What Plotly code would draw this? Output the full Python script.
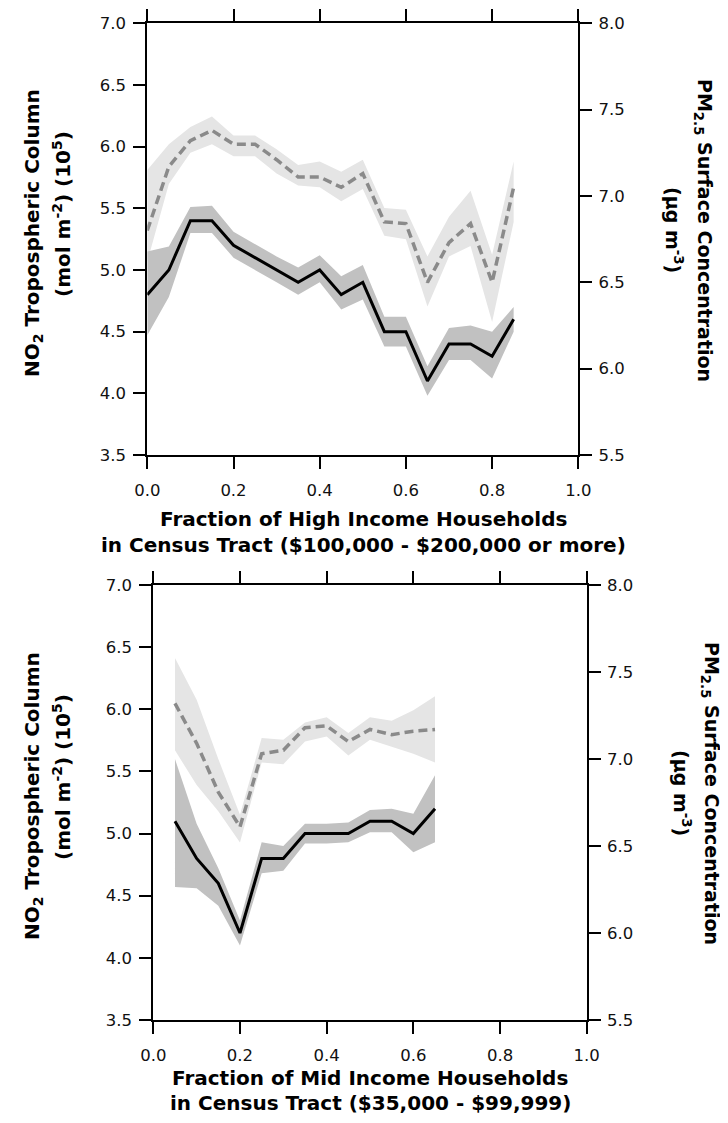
import plotly.graph_objects as go

# ---------------- data: top panel (high income) ----------------
x_high = [0.0, 0.05, 0.1, 0.15, 0.2, 0.25, 0.3, 0.35, 0.4, 0.45, 0.5, 0.55, 0.6, 0.65, 0.7, 0.75, 0.8, 0.85]
no2_high = [4.8, 5.0, 5.4, 5.4, 5.2, 5.1, 5.0, 4.9, 5.0, 4.8, 4.9, 4.5, 4.5, 4.1, 4.4, 4.4, 4.3, 4.6]
no2_high_hi = [5.15, 5.19, 5.51, 5.52, 5.31, 5.21, 5.11, 5.02, 5.12, 4.95, 5.04, 4.62, 4.62, 4.22, 4.53, 4.55, 4.5, 4.7]
no2_high_lo = [4.47, 4.78, 5.3, 5.3, 5.1, 5.0, 4.9, 4.8, 4.9, 4.68, 4.76, 4.38, 4.38, 3.98, 4.27, 4.27, 4.12, 4.5]
pm_high = [6.80, 7.17, 7.32, 7.38, 7.30, 7.30, 7.21, 7.11, 7.11, 7.05, 7.13, 6.85, 6.84, 6.50, 6.73, 6.84, 6.50, 7.05]
pm_high_hi = [7.15, 7.30, 7.40, 7.46, 7.35, 7.35, 7.27, 7.18, 7.20, 7.14, 7.21, 6.93, 6.92, 6.65, 6.88, 7.03, 6.66, 7.20]
pm_high_lo = [6.62, 7.07, 7.25, 7.30, 7.23, 7.23, 7.13, 7.06, 7.05, 6.97, 7.04, 6.77, 6.75, 6.36, 6.65, 6.71, 6.27, 6.85]

# ---------------- data: bottom panel (mid income) ----------------
x_mid = [0.05, 0.1, 0.15, 0.2, 0.25, 0.3, 0.35, 0.4, 0.45, 0.5, 0.55, 0.6, 0.65]
no2_mid = [5.1, 4.8, 4.6, 4.2, 4.8, 4.8, 5.0, 5.0, 5.0, 5.1, 5.1, 5.0, 5.2]
no2_mid_hi = [5.6, 5.08, 4.72, 4.3, 4.93, 4.9, 5.08, 5.08, 5.09, 5.19, 5.2, 5.16, 5.47]
no2_mid_lo = [4.57, 4.56, 4.42, 4.1, 4.68, 4.70, 4.92, 4.92, 4.93, 5.01, 5.01, 4.85, 4.93]
pm_mid = [7.32, 7.09, 6.81, 6.61, 7.03, 7.05, 7.18, 7.19, 7.10, 7.17, 7.14, 7.16, 7.17]
pm_mid_hi = [7.58, 7.34, 7.0, 6.68, 7.12, 7.11, 7.21, 7.24, 7.15, 7.24, 7.22, 7.28, 7.36]
pm_mid_lo = [7.05, 6.85, 6.70, 6.52, 6.98, 6.97, 7.10, 7.13, 7.02, 7.11, 7.07, 7.03, 6.98]

x_ticks = [0.0, 0.2, 0.4, 0.6, 0.8, 1.0]
no2_ticks = [3.5, 4.0, 4.5, 5.0, 5.5, 6.0, 6.5, 7.0]
pm_ticks = [5.5, 6.0, 6.5, 7.0, 7.5, 8.0]

# page has an 8px body margin: figure is 720x1115 and placed at (8, 8)
OFF = 8
W, H = 720, 1115


def fx(px):
    return (px - OFF) / W


def fy(py):
    return 1 - (py - OFF) / H


FONT = "DejaVu Sans"
DARK_BAND = "#c1c1c1"
LIGHT_BAND = "#e5e5e5"
DASH_COL = "#8a8a8a"

fig = go.Figure()


def band(x, lo, hi, color, xa, ya):
    fig.add_trace(go.Scatter(
        x=list(x) + list(x)[::-1], y=list(hi) + list(lo)[::-1],
        fill="toself", fillcolor=color, line=dict(width=0), mode="lines",
        hoverinfo="skip", showlegend=False, xaxis=xa, yaxis=ya))


def panel(x, pm, pm_lo, pm_hi, no2, no2_lo, no2_hi, xa, ya_pm, ya_no2):
    band(x, pm_lo, pm_hi, LIGHT_BAND, xa, ya_pm)
    fig.add_trace(go.Scatter(x=x, y=pm, mode="lines",
                             line=dict(color=DASH_COL, width=3.5, dash="9px,5px"),
                             showlegend=False, xaxis=xa, yaxis=ya_pm))
    band(x, no2_lo, no2_hi, DARK_BAND, xa, ya_no2)
    fig.add_trace(go.Scatter(x=x, y=no2, mode="lines",
                             line=dict(color="black", width=3),
                             showlegend=False, xaxis=xa, yaxis=ya_no2))


panel(x_high, pm_high, pm_high_lo, pm_high_hi, no2_high, no2_high_lo, no2_high_hi, "x", "y", "y2")
panel(x_mid, pm_mid, pm_mid_lo, pm_mid_hi, no2_mid, no2_mid_lo, no2_mid_hi, "x2", "y3", "y4")

tickfont = dict(family=FONT, size=16.5, color="#111")
common = dict(showline=True, linewidth=2, linecolor="black", ticks="outside",
              ticklen=12, tickwidth=2, tickcolor="black", showgrid=False,
              zeroline=False, tickfont=tickfont, automargin=False, tickformat=".1f")

top_y = [fy(455), fy(23.3)]
bot_y = [fy(1020), fy(585)]

fig.update_layout(
    width=W, height=H, margin=dict(l=0, r=0, t=0, b=0),
    paper_bgcolor="white", plot_bgcolor="rgba(0,0,0,0)",
    xaxis=dict(domain=[fx(147.3), fx(578.3)], range=[0, 1], tickvals=x_ticks,
               anchor="y", mirror="ticks", ticklabelstandoff=7, **common),
    yaxis=dict(domain=top_y, range=[5.5, 8.0], tickvals=pm_ticks, side="right",
               anchor="x", ticklabelstandoff=3, **common),
    yaxis2=dict(range=[3.5, 7.0], tickvals=no2_ticks, side="left", overlaying="y",
                anchor="x", ticklabelstandoff=4, **common),
    xaxis2=dict(domain=[fx(153.3), fx(586.7)], range=[0, 1], tickvals=x_ticks,
                anchor="y3", mirror="ticks", ticklabelstandoff=7, **common),
    yaxis3=dict(domain=bot_y, range=[5.5, 8.0], tickvals=pm_ticks, side="right",
                anchor="x2", ticklabelstandoff=3, **common),
    yaxis4=dict(range=[3.5, 7.0], tickvals=no2_ticks, side="left", overlaying="y3",
                anchor="x2", ticklabelstandoff=4, **common),
)


def ann(text, px, py, angle=0, size=20):
    fig.add_annotation(text=text, x=fx(px), y=fy(py), xref="paper", yref="paper",
                       showarrow=False, textangle=angle,
                       font=dict(family=FONT, size=size, color="black"),
                       xanchor="center", yanchor="middle")


# top panel titles
ann("<b>Fraction of High Income Households</b>", 363, 519)
ann("<b>in Census Tract ($100,000 - $200,000 or more)</b>", 363, 545)
ann("<b>NO<sub>2</sub> Tropospheric Column</b>", 33, 233, -90)
ann("<b>(mol m<sup>-2</sup>) (10<sup>5</sup>)</b>", 62, 214, -90)
ann("<b>PM<sub>2.5</sub> Surface Concentration</b>", 703, 230, 90, 19)
ann("<b>(µg m<sup>-3</sup>)</b>", 674, 230, 90, 19)

# bottom panel titles
ann("<b>Fraction of Mid Income Households</b>", 370, 1078)
ann("<b>in Census Tract ($35,000 - $99,999)</b>", 370, 1103)
ann("<b>NO<sub>2</sub> Tropospheric Column</b>", 33, 796, -90)
ann("<b>(mol m<sup>-2</sup>) (10<sup>5</sup>)</b>", 62, 777, -90)
ann("<b>PM<sub>2.5</sub> Surface Concentration</b>", 711, 793, 90, 19)
ann("<b>(µg m<sup>-3</sup>)</b>", 682, 793, 90, 19)

fig.write_html("out.html")
